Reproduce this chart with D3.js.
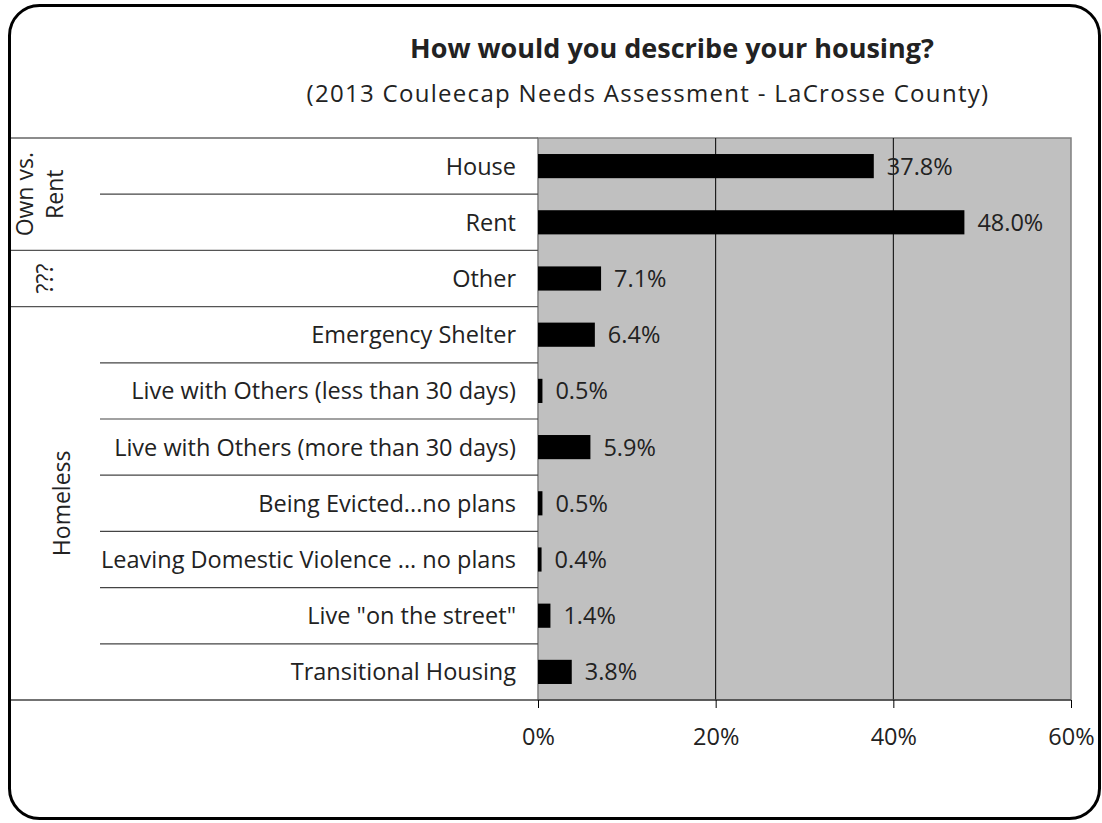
<!DOCTYPE html>
<html><head><meta charset="utf-8">
<script src="https://cdn.jsdelivr.net/npm/d3@7"></script>
<style>body{margin:0;background:#fff}svg{display:block}text{font-family:"Open Sans",sans-serif;fill:#222}</style>
</head><body>
<svg id="c" width="1102" height="823"></svg>
<script>
const categories = ["House","Rent","Other","Emergency Shelter","Live with Others (less than 30 days)","Live with Others (more than 30 days)","Being Evicted...no plans","Leaving Domestic Violence ... no plans","Live \"on the street\"","Transitional Housing"];
const values = [37.8,48.0,7.1,6.4,0.5,5.9,0.5,0.4,1.4,3.8];
const groups = [["Own vs.","Rent"],["???"],["Homeless"]];
const groupSizes = [2,1,7];
const tickValues = [0,20,40,60];
const title = "How would you describe your housing?";
const subtitle = "(2013 Couleecap Needs Assessment - LaCrosse County)";

const svg = d3.select("#c");
const L = 538, R = 1071, T = 138, B = 700;
const FS = 23.5;
const x = d3.scaleLinear().domain([0,60]).range([L,R]);
const y = d3.scaleBand().domain(categories).range([T,B]).paddingInner(0.57).paddingOuter(0.285);
const step = y.step();

svg.append("rect").attr("x",9.5).attr("y",5.5).attr("width",1090).attr("height",813).attr("rx",30).attr("ry",30)
  .attr("fill","#fff").attr("stroke","#000").attr("stroke-width",3);

svg.append("text").attr("x",672).attr("y",58).attr("text-anchor","middle").attr("font-size",27).attr("font-weight","bold").attr("fill","#000").text(title);
svg.append("text").attr("x",648).attr("y",102).attr("text-anchor","middle").attr("font-size",24).attr("letter-spacing",1.3).text(subtitle);

svg.append("rect").attr("x",L).attr("y",T).attr("width",R-L).attr("height",B-T).attr("fill","#c0c0c0").attr("stroke","#808080").attr("stroke-width",1.5);
svg.selectAll(".grid").data(tickValues.slice(1,-1)).join("line").attr("x1",d=>x(d)).attr("x2",d=>x(d)).attr("y1",T).attr("y2",B).attr("stroke","#000").attr("stroke-width",1);

svg.append("line").attr("x1",11).attr("x2",L).attr("y1",T).attr("y2",T).attr("stroke","#666").attr("stroke-width",1.5);

let cum = 0; const groupEnds = new Set();
groupSizes.forEach(s=>{cum+=s; groupEnds.add(cum);});
categories.forEach((c,i)=>{
  if(i===0) return;
  const yy = T + step*i;
  const full = groupEnds.has(i);
  svg.append("line").attr("x1",full?11:100).attr("x2",L).attr("y1",yy).attr("y2",yy).attr("stroke",full?"#555":"#444").attr("stroke-width",1.2);
});
svg.append("line").attr("x1",11).attr("x2",R).attr("y1",B).attr("y2",B).attr("stroke","#444").attr("stroke-width",1.5);

svg.selectAll(".bar").data(values).join("rect").attr("x",L).attr("y",(d,i)=>y(categories[i]))
  .attr("width",d=>x(d)-L).attr("height",y.bandwidth()).attr("fill","#000");
svg.selectAll(".val").data(values).join("text").attr("x",d=>x(d)+13).attr("y",(d,i)=>y(categories[i])+y.bandwidth()/2+8.5)
  .attr("font-size",FS).text(d=>d.toFixed(1)+"%");

svg.selectAll(".cat").data(categories).join("text").attr("x",L-22).attr("y",d=>y(d)+y.bandwidth()/2+8.5)
  .attr("text-anchor","end").attr("font-size",FS).text(d=>d);

const ax = svg.append("g").attr("transform",`translate(0,${B})`).call(d3.axisBottom(x).tickValues(tickValues).tickFormat(d=>d+"%").tickSize(8).tickPadding(20));
ax.select(".domain").remove();
ax.selectAll("line").attr("stroke","#000");
ax.selectAll("text").attr("font-size",FS).attr("fill","#222").attr("font-family","'Open Sans',sans-serif");

let start = 0;
groups.forEach((g,gi)=>{
  const s = groupSizes[gi];
  const cy = T + step*(start + s/2);
  start += s;
  const cx = g.length===2 ? 40 : (g[0]==="???" ? 45 : 62);
  const t = svg.append("text").attr("transform",`translate(${cx},${cy}) rotate(-90)`).attr("text-anchor","middle").attr("font-size",23);
  g.forEach((line,li)=>{
    t.append("tspan").attr("x",0).attr("dy", li===0 ? (g.length===2?-7:8) : 30).text(line);
  });
});
</script>
</body></html>
